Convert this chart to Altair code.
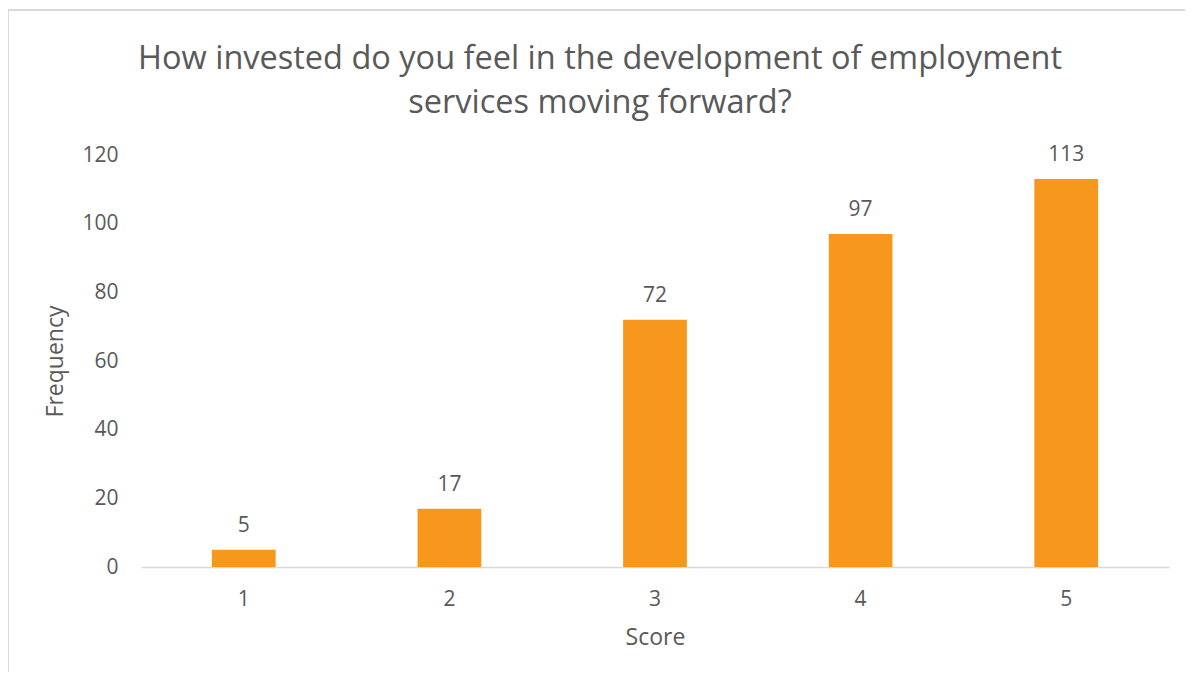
import altair as alt
import pandas as pd

scores = ["1", "2", "3", "4", "5"]
freqs = [5, 17, 72, 97, 113]

df = pd.DataFrame({"Score": scores, "Frequency": freqs})

FONT = "Open Sans"
GREY = "#595959"

base = alt.Chart(df)

bars = base.mark_bar(color="#F7981D").encode(
    x=alt.X("Score:N", sort=scores,
            scale=alt.Scale(paddingInner=0.69, paddingOuter=0.345),
            axis=alt.Axis(title="Score", labelAngle=0, ticks=False, domainColor="#D9D9D9",
                          domainWidth=1.5, labelPadding=21, titlePadding=17)),
    y=alt.Y("Frequency:Q", scale=alt.Scale(domain=[0, 120]),
            axis=alt.Axis(title="Frequency", values=[0, 20, 40, 60, 80, 100, 120], grid=False,
                          ticks=False, domain=False, labelPadding=23, titlePadding=14)),
)

labels = base.mark_text(font=FONT, fontSize=21, color=GREY, baseline="alphabetic", dy=-18).encode(
    x=alt.X("Score:N", sort=scores),
    y="Frequency:Q",
    text="Frequency:Q",
)

frame = alt.Chart(alt.Data(values=[{}]))
left_border = frame.mark_rule(color="#D9D9D9", strokeWidth=2, clip=False).encode(
    x=alt.value(-133), y=alt.value(-145), y2=alt.value(600))
top_border = frame.mark_rule(color="#D9D9D9", strokeWidth=2, clip=False).encode(
    x=alt.value(-133), x2=alt.value(1100), y=alt.value(-145))

chart = alt.layer(bars, labels, left_border, top_border).properties(
    width=1028, height=412,
    padding={"left": 133, "top": 147, "right": 16, "bottom": 105},
    autosize=alt.AutoSizeParams(type="none"),
    background="white",
    title=alt.TitleParams(
        text=["How invested do you feel in the development of employment",
              "services moving forward?"],
        font=FONT, fontSize=32.5, fontWeight="normal", color=GREY,
        anchor="middle", dx=-55, offset=0, dy=110, lineHeight=44,
    ),
).configure_axis(
    labelFont=FONT, labelFontSize=21, labelColor=GREY,
    titleFont=FONT, titleFontSize=23, titleColor=GREY, titleFontWeight="normal",
).configure_view(stroke=None)

chart.save("out.html", embed_options={"renderer": "svg", "actions": False})
